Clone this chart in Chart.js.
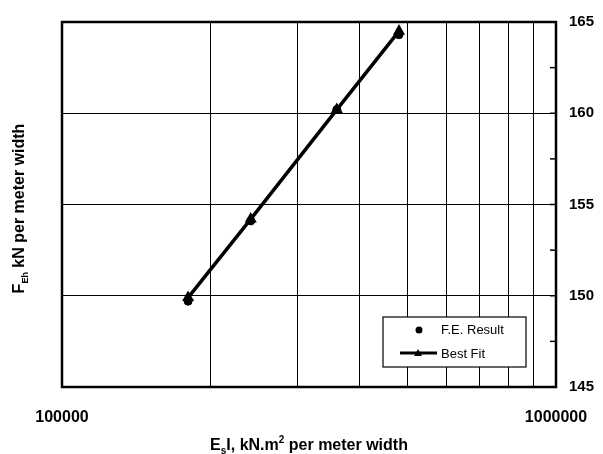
<!DOCTYPE html>
<html>
<head>
<meta charset="utf-8">
<script src="https://cdn.jsdelivr.net/npm/chart.js@4/dist/chart.umd.min.js"></script>
<style>
  html, body { margin: 0; padding: 0; background: #fff; }
  #wrap { width: 603px; height: 454px; }
</style>
</head>
<body>
<div id="wrap"><canvas id="feChart" width="603" height="454"></canvas></div>
<script>
// data
const stiffness = [180000, 241000, 360000, 481000];      // EsI, kN.m2 per m
const feResult = [149.7, 154.1, 160.2, 164.3];           // F.E. Result
const bestFit = [149.9, 154.2, 160.2, 164.5];            // Best Fit
const xTicks = [100000, 200000, 300000, 400000, 500000, 600000, 700000, 800000, 900000, 1000000];
const xLabels = [100000, 1000000];
const yTicks = [145, 147.5, 150, 152.5, 155, 157.5, 160, 162.5, 165];
const yLabels = [145, 150, 155, 160, 165];

const FONT = "'Liberation Sans', Arial, sans-serif";

// frame, inner ticks, titles with sub/superscripts, legend box
const decorations = {
  id: 'decorations',
  afterDraw(chart) {
    const c = chart.ctx;
    const a = chart.chartArea;
    const y = chart.scales.y;
    c.save();
    c.strokeStyle = '#000';
    c.lineWidth = 2.5;
    c.strokeRect(a.left, a.top, a.right - a.left, a.bottom - a.top);

    // minor ticks on right axis
    c.lineWidth = 1.5;
    yTicks.forEach(v => {
      const py = y.getPixelForValue(v);
      c.beginPath();
      c.moveTo(a.right - 6, py);
      c.lineTo(a.right, py);
      c.stroke();
    });

    // x axis title: EsI, kN.m2 per meter width
    c.fillStyle = '#000';
    c.textBaseline = 'alphabetic';
    const parts = [
      ['E', 16, 0], ['s', 10, 4], ['I, kN.m', 16, 0], ['2', 10, -7], [' per meter width', 16, 0]
    ];
    let total = 0;
    parts.forEach(p => { c.font = 'bold ' + p[1] + 'px ' + FONT; total += c.measureText(p[0]).width; });
    let x0 = (a.left + a.right) / 2 - total / 2;
    parts.forEach(p => {
      c.font = 'bold ' + p[1] + 'px ' + FONT;
      c.fillText(p[0], x0, 450 + p[2]);
      x0 += c.measureText(p[0]).width;
    });

    // y axis title: FEh kN per meter width
    c.save();
    c.translate(24, (a.top + a.bottom) / 2 + 4);
    c.rotate(-Math.PI / 2);
    const yparts = [['F', 16, 0], ['Eh', 9, 4], [' kN per meter width', 16, 0]];
    let yt = 0;
    yparts.forEach(p => { c.font = 'bold ' + p[1] + 'px ' + FONT; yt += c.measureText(p[0]).width; });
    let yx = -yt / 2;
    yparts.forEach(p => {
      c.font = 'bold ' + p[1] + 'px ' + FONT;
      c.fillText(p[0], yx, 0 + p[2]);
      yx += c.measureText(p[0]).width;
    });
    c.restore();

    // legend
    const lx = 383, ly = 317, lw = 143, lh = 50;
    c.fillStyle = '#fff';
    c.fillRect(lx, ly, lw, lh);
    c.lineWidth = 1.2;
    c.strokeStyle = '#000';
    c.strokeRect(lx, ly, lw, lh);
    c.fillStyle = '#000';
    c.beginPath();
    c.arc(419, 330, 3.5, 0, Math.PI * 2);
    c.fill();
    c.lineWidth = 3;
    c.beginPath();
    c.moveTo(400, 353);
    c.lineTo(437, 353);
    c.stroke();
    c.beginPath();
    c.moveTo(418, 349);
    c.lineTo(422, 356);
    c.lineTo(414, 356);
    c.closePath();
    c.fill();
    c.font = '13px ' + FONT;
    c.textBaseline = 'middle';
    c.fillText('F.E. Result', 441, 330);
    c.fillText('Best Fit', 441, 354);
    c.restore();
  }
};

const ctx = document.getElementById('feChart').getContext('2d');
const feChart = new Chart(ctx, {
  type: 'scatter',
  data: {
    datasets: [
      {
        label: 'Best Fit',
        data: stiffness.map((v, i) => ({ x: v, y: bestFit[i] })),
        showLine: true,
        borderColor: '#000',
        backgroundColor: '#000',
        borderWidth: 3.5,
        pointStyle: 'triangle',
        pointRadius: 3.5,
        yAxisID: 'y'
      },
      {
        label: 'F.E. Result',
        data: stiffness.map((v, i) => ({ x: v, y: feResult[i] })),
        showLine: false,
        borderColor: '#000',
        backgroundColor: '#000',
        pointStyle: 'circle',
        pointRadius: 4,
        yAxisID: 'y'
      }
    ]
  },
  options: {
    responsive: false,
    animation: false,
    layout: { padding: { top: 17, right: 0, left: 0, bottom: 0 } },
    plugins: {
      legend: { display: false },
      tooltip: { enabled: false }
    },
    scales: {
      x: {
        type: 'logarithmic',
        position: 'bottom',
        min: 100000,
        max: 1000000,
        afterBuildTicks: s => { s.ticks = xTicks.map(v => ({ value: v })); },
        afterFit: s => { s.height = 67; s.paddingLeft = 0; s.paddingRight = 0; },
        border: { display: false },
        grid: { color: '#000', lineWidth: 1, drawTicks: false },
        ticks: {
          autoSkip: false,
          maxRotation: 0,
          padding: 21,
          color: '#000',
          font: { family: FONT, size: 16, weight: 'bold' },
          callback: v => xLabels.includes(v) ? String(v) : ''
        }
      },
      y: {
        position: 'right',
        min: 145,
        max: 165,
        afterBuildTicks: s => { s.ticks = yTicks.map(v => ({ value: v })); },
        afterFit: s => { s.width = 47; },
        border: { display: false },
        grid: {
          drawTicks: false,
          lineWidth: 1,
          color: c => (c.tick && [150, 155, 160].includes(c.tick.value)) ? '#000' : 'rgba(0,0,0,0)'
        },
        ticks: {
          padding: 13,
          color: '#000',
          font: { family: FONT, size: 15, weight: 'bold' },
          callback: v => yLabels.includes(v) ? String(v) : ''
        }
      },
      yLeft: {
        position: 'left',
        min: 145,
        max: 165,
        afterFit: s => { s.width = 62; },
        border: { display: false },
        grid: { display: false },
        ticks: { display: false }
      }
    }
  },
  plugins: [decorations]
});
</script>
</body>
</html>
